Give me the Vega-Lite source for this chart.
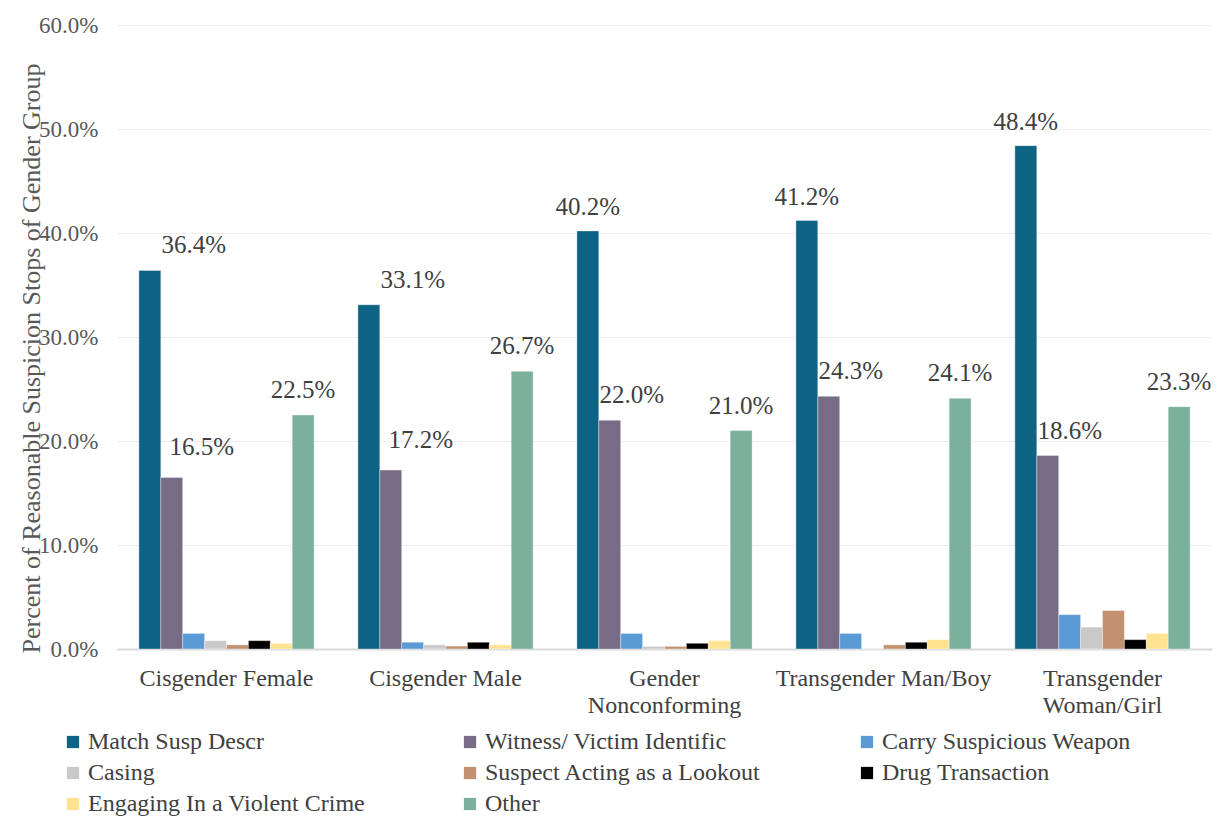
{
  "$schema": "https://vega.github.io/schema/vega-lite/v6.json",
  "autosize": "none",
  "width": 1095,
  "height": 624,
  "padding": {"left": 117, "top": 25, "right": 10, "bottom": 168},
  "background": "white",
  "config": {
    "font": "Liberation Serif",
    "view": {"stroke": null}
  },
  "data": {
    "values": [
      {"group": "Cisgender Female", "reason": "Match Susp Descr", "value": 0.364},
      {"group": "Cisgender Female", "reason": "Witness/ Victim Identific", "value": 0.165},
      {"group": "Cisgender Female", "reason": "Carry Suspicious Weapon", "value": 0.015},
      {"group": "Cisgender Female", "reason": "Casing", "value": 0.008},
      {"group": "Cisgender Female", "reason": "Suspect Acting as a Lookout", "value": 0.004},
      {"group": "Cisgender Female", "reason": "Drug Transaction", "value": 0.008},
      {"group": "Cisgender Female", "reason": "Engaging In a Violent Crime", "value": 0.0055},
      {"group": "Cisgender Female", "reason": "Other", "value": 0.225},
      {"group": "Cisgender Male", "reason": "Match Susp Descr", "value": 0.331},
      {"group": "Cisgender Male", "reason": "Witness/ Victim Identific", "value": 0.172},
      {"group": "Cisgender Male", "reason": "Carry Suspicious Weapon", "value": 0.0065},
      {"group": "Cisgender Male", "reason": "Casing", "value": 0.004},
      {"group": "Cisgender Male", "reason": "Suspect Acting as a Lookout", "value": 0.0028},
      {"group": "Cisgender Male", "reason": "Drug Transaction", "value": 0.0065},
      {"group": "Cisgender Male", "reason": "Engaging In a Violent Crime", "value": 0.004},
      {"group": "Cisgender Male", "reason": "Other", "value": 0.267},
      {"group": "Gender Nonconforming", "reason": "Match Susp Descr", "value": 0.402},
      {"group": "Gender Nonconforming", "reason": "Witness/ Victim Identific", "value": 0.22},
      {"group": "Gender Nonconforming", "reason": "Carry Suspicious Weapon", "value": 0.015},
      {"group": "Gender Nonconforming", "reason": "Casing", "value": 0.0025},
      {"group": "Gender Nonconforming", "reason": "Suspect Acting as a Lookout", "value": 0.0025},
      {"group": "Gender Nonconforming", "reason": "Drug Transaction", "value": 0.0055},
      {"group": "Gender Nonconforming", "reason": "Engaging In a Violent Crime", "value": 0.008},
      {"group": "Gender Nonconforming", "reason": "Other", "value": 0.21},
      {"group": "Transgender Man/Boy", "reason": "Match Susp Descr", "value": 0.412},
      {"group": "Transgender Man/Boy", "reason": "Witness/ Victim Identific", "value": 0.243},
      {"group": "Transgender Man/Boy", "reason": "Carry Suspicious Weapon", "value": 0.015},
      {"group": "Transgender Man/Boy", "reason": "Casing", "value": 0},
      {"group": "Transgender Man/Boy", "reason": "Suspect Acting as a Lookout", "value": 0.004},
      {"group": "Transgender Man/Boy", "reason": "Drug Transaction", "value": 0.0065},
      {"group": "Transgender Man/Boy", "reason": "Engaging In a Violent Crime", "value": 0.009},
      {"group": "Transgender Man/Boy", "reason": "Other", "value": 0.241},
      {"group": "Transgender Woman/Girl", "reason": "Match Susp Descr", "value": 0.484},
      {"group": "Transgender Woman/Girl", "reason": "Witness/ Victim Identific", "value": 0.186},
      {"group": "Transgender Woman/Girl", "reason": "Carry Suspicious Weapon", "value": 0.033},
      {"group": "Transgender Woman/Girl", "reason": "Casing", "value": 0.021},
      {"group": "Transgender Woman/Girl", "reason": "Suspect Acting as a Lookout", "value": 0.037},
      {"group": "Transgender Woman/Girl", "reason": "Drug Transaction", "value": 0.009},
      {"group": "Transgender Woman/Girl", "reason": "Engaging In a Violent Crime", "value": 0.015},
      {"group": "Transgender Woman/Girl", "reason": "Other", "value": 0.233}
    ]
  },
  "encoding": {
    "x": {
      "field": "group",
      "type": "nominal",
      "sort": null,
      "scale": {"paddingInner": 0.2, "paddingOuter": 0.1},
      "axis": {
        "title": null,
        "labelAngle": 0,
        "labelFont": "Liberation Serif",
        "labelFontSize": 24,
        "labelColor": "#404040",
        "labelPadding": 17,
        "labelLineHeight": 27,
        "labelBaseline": "top",
        "labelLimit": 300,
        "labelExpr": "datum.label == 'Gender Nonconforming' ? ['Gender', 'Nonconforming'] : datum.label == 'Transgender Woman/Girl' ? ['Transgender', 'Woman/Girl'] : datum.label",
        "ticks": false,
        "domainColor": "#D9D9D9",
        "domainWidth": 2,
        "grid": false
      }
    },
    "xOffset": {
      "field": "reason",
      "type": "nominal",
      "sort": null,
      "scale": {"paddingInner": 0, "paddingOuter": 0}
    },
    "y": {
      "field": "value",
      "type": "quantitative",
      "scale": {"domain": [0, 0.6], "nice": false},
      "axis": {
        "title": "Percent of Reasonable Suspicion Stops of Gender Group",
        "titleFont": "Liberation Serif",
        "titleFontSize": 26,
        "titleFontWeight": "normal",
        "titleColor": "#595959",
        "titleX": -86,
        "titleY": 333,
        "titleAngle": -90,
        "titleBaseline": "middle",
        "titleAlign": "center",
        "format": ".1%",
        "values": [0, 0.1, 0.2, 0.3, 0.4, 0.5, 0.6],
        "labelFont": "Liberation Serif",
        "labelFontSize": 23,
        "labelColor": "#595959",
        "labelPadding": 19,
        "ticks": false,
        "domain": false,
        "gridColor": "#EDEDED",
        "gridWidth": 1
      }
    }
  },
  "layer": [
    {
      "mark": {"type": "bar", "stroke": "white", "strokeWidth": 0.6, "strokeOpacity": 0.6},
      "encoding": {
        "color": {
          "field": "reason",
          "type": "nominal",
          "sort": null,
          "scale": {
            "domain": ["Match Susp Descr", "Witness/ Victim Identific", "Carry Suspicious Weapon", "Casing", "Suspect Acting as a Lookout", "Drug Transaction", "Engaging In a Violent Crime", "Other"],
            "range": ["#0E6384", "#786B85", "#5B9BD5", "#C9C9C9", "#C39170", "#000000", "#FFE391", "#7AB09C"]
          },
          "legend": {
            "title": null,
            "orient": "none",
            "legendX": -56,
            "legendY": 705,
            "direction": "horizontal",
            "columns": 3,
            "gridAlign": "all",
            "columnPadding": 92,
            "rowPadding": 7,
            "symbolType": "square",
            "symbolSize": 150,
            "symbolStrokeWidth": 0,
            "labelFont": "Liberation Serif",
            "labelFontSize": 24,
            "labelColor": "#404040",
            "labelOffset": 3,
            "labelLimit": 400
          }
        }
      }
    },
    {
      "transform": [{"filter": "datum.reason == 'Match Susp Descr' && (datum.group == 'Cisgender Female' || datum.group == 'Cisgender Male')"}],
      "mark": {"type": "text", "font": "Liberation Serif", "dx": 44, "dy": -17, "fontSize": 25, "color": "#404040", "baseline": "alphabetic"},
      "encoding": {"text": {"field": "value", "type": "quantitative", "format": ".1%"}}
    },
    {
      "transform": [{"filter": "datum.reason == 'Match Susp Descr' && datum.group != 'Cisgender Female' && datum.group != 'Cisgender Male'"}],
      "mark": {"type": "text", "font": "Liberation Serif", "dx": 0, "dy": -16, "fontSize": 25, "color": "#404040", "baseline": "alphabetic"},
      "encoding": {"text": {"field": "value", "type": "quantitative", "format": ".1%"}}
    },
    {
      "transform": [{"filter": "datum.reason == 'Witness/ Victim Identific' && (datum.group == 'Cisgender Female' || datum.group == 'Cisgender Male')"}],
      "mark": {"type": "text", "font": "Liberation Serif", "dx": 30, "dy": -22, "fontSize": 25, "color": "#404040", "baseline": "alphabetic"},
      "encoding": {"text": {"field": "value", "type": "quantitative", "format": ".1%"}}
    },
    {
      "transform": [{"filter": "datum.reason == 'Witness/ Victim Identific' && datum.group != 'Cisgender Female' && datum.group != 'Cisgender Male'"}],
      "mark": {"type": "text", "font": "Liberation Serif", "dx": 22, "dy": -17, "fontSize": 25, "color": "#404040", "baseline": "alphabetic"},
      "encoding": {"text": {"field": "value", "type": "quantitative", "format": ".1%"}}
    },
    {
      "transform": [{"filter": "datum.reason == 'Other'"}],
      "mark": {"type": "text", "font": "Liberation Serif", "dx": 0, "dy": -17, "fontSize": 25, "color": "#404040", "baseline": "alphabetic"},
      "encoding": {"text": {"field": "value", "type": "quantitative", "format": ".1%"}}
    }
  ]
}
